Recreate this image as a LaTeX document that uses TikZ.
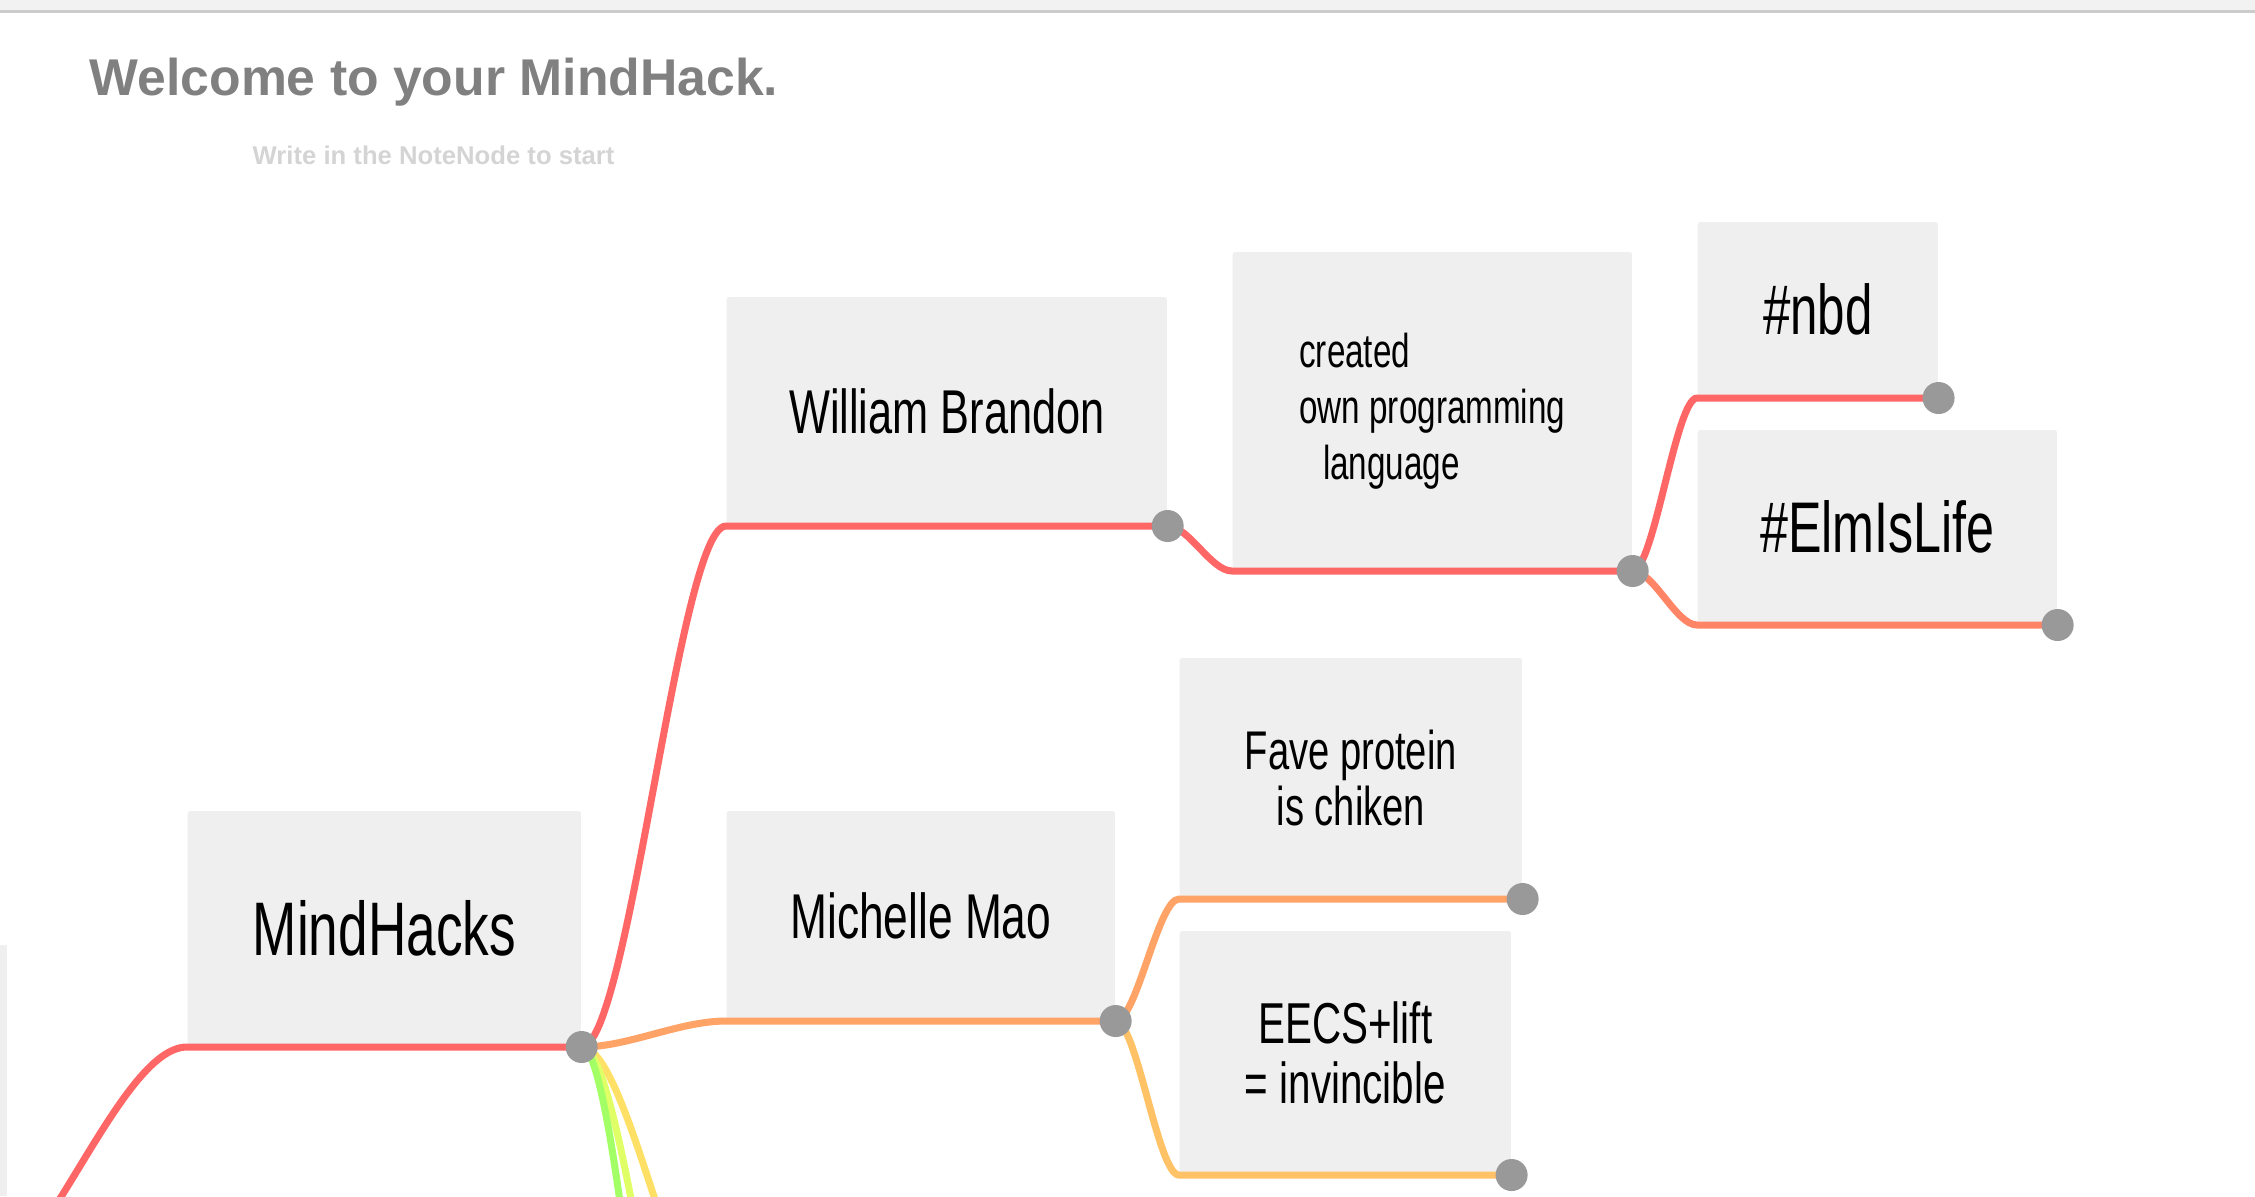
\documentclass[tikz,border=0pt]{standalone}
\usepackage{fontspec}
\setmainfont{Liberation Sans}
\newfontfamily\handfont{Liberation Sans}[FakeStretch=0.7]
\definecolor{nodegray}{HTML}{EFEFEF}
\definecolor{dotgray}{HTML}{999999}
\definecolor{titlegray}{HTML}{808080}
\definecolor{hintgray}{HTML}{D4D4D4}
\definecolor{barfill}{HTML}{F2F2F2}
\definecolor{barline}{HTML}{CCCCCC}
\definecolor{lred}{HTML}{FF6666}
\definecolor{lsalmon}{HTML}{FF8566}
\definecolor{lorange}{HTML}{FFA366}
\definecolor{lapricot}{HTML}{FFC266}
\definecolor{lyellow}{HTML}{FFE066}
\definecolor{llime}{HTML}{E0FF66}
\definecolor{lgreen}{HTML}{A3FF66}

\begin{document}
\begin{tikzpicture}[x=0.01cm, y=-0.01cm,
  notenode/.style={fill=nodegray, rounded corners=0.6pt, inner sep=0pt, anchor=south west, align=center, font=\handfont},
  link/.style={line width=2pt},
  dot/.style={circle, fill=dotgray, inner sep=0pt, minimum size=0.32cm}]
\useasboundingbox (0,0) rectangle (2255,1196);
\clip (0,0) rectangle (2255,1196);
% header
\fill[barfill] (0,0) rectangle (2255,11);
\draw[barline, line width=0.6pt] (0,11.5) -- (2255,11.5);
\node[font=\bfseries\fontsize{14.7}{17}\selectfont, text=titlegray, anchor=base west, inner sep=0pt]
  (welcome) at (89,95) {Welcome to your MindHack.};
\node[font=\bfseries\fontsize{7.3}{9}\selectfont, text=hintgray, anchor=base west, inner sep=0pt]
  (hint) at (252,164) {Write in the NoteNode to start};
% note nodes
\fill[nodegray] (0,945) rectangle (7,1196);
\node[notenode, minimum width=3.93cm, minimum height=2.35cm, font=\handfont\fontsize{21.6}{24}\selectfont]
  (mindhacks) at (187,1047) {MindHacks};
\node[notenode, minimum width=4.40cm, minimum height=2.28cm, font=\handfont\fontsize{17.6}{20}\selectfont]
  (william) at (726,526) {William Brandon};
\node[notenode, minimum width=3.99cm, minimum height=3.18cm, align=left, font=\handfont\fontsize{13.5}{16}\selectfont]
  (created) at (1232,571) {created\\own programming\\\hspace*{0.5em}language};
\node[notenode, minimum width=2.40cm, minimum height=1.75cm, font=\handfont\fontsize{20}{22}\selectfont]
  (nbd) at (1697,398) {\#nbd};
\node[notenode, minimum width=3.59cm, minimum height=1.94cm, font=\handfont\fontsize{20.4}{22}\selectfont]
  (elm) at (1697,625) {\#ElmIsLife};
\node[notenode, minimum width=3.88cm, minimum height=2.09cm, font=\handfont\fontsize{18}{20}\selectfont]
  (michelle) at (726,1021) {Michelle Mao};
\node[notenode, minimum width=3.42cm, minimum height=2.40cm, font=\handfont\fontsize{15.5}{16}\selectfont]
  (fave) at (1179,899) {Fave protein\\is chiken};
\node[notenode, minimum width=3.31cm, minimum height=2.43cm, font=\handfont\fontsize{16.4}{17}\selectfont]
  (eecs) at (1179,1175) {EECS+lift\\= invincible};
% off-screen ends
\coordinate (root) at (-30,1290);
\coordinate (kid3) at (726,1345);
\coordinate (kid4) at (726,1603);
\coordinate (kid5) at (726,1923);
% links
\draw[link, lred] (root) .. controls +(69,0) and +(-69,0) .. (mindhacks.south west) -- (mindhacks.south east);
\draw[link, lyellow] (mindhacks.south east) .. controls +(47,0) and +(-47,0) .. (kid3);
\draw[link, llime] (mindhacks.south east) .. controls +(47,0) and +(-47,0) .. (kid4);
\draw[link, lgreen] (mindhacks.south east) .. controls +(47,0) and +(-47,0) .. (kid5);
\draw[link, lorange] (mindhacks.south east) .. controls +(47,0) and +(-47,0) .. (michelle.south west) -- (michelle.south east);
\draw[link, lred] (mindhacks.south east) .. controls +(47,0) and +(-47,0) .. (william.south west) -- (william.south east);
\draw[link, lred] (william.south east) .. controls +(21,0) and +(-21,0) .. (created.south west) -- (created.south east);
\draw[link, lsalmon] (created.south east) .. controls +(21,0) and +(-21,0) .. (elm.south west) -- (elm.south east);
\draw[link, lred] (created.south east) .. controls +(21,0) and +(-21,0) .. (nbd.south west) -- (nbd.south east);
\draw[link, lorange] (michelle.south east) .. controls +(21,0) and +(-21,0) .. (fave.south west) -- (fave.south east);
\draw[link, lapricot] (michelle.south east) .. controls +(21,0) and +(-21,0) .. (eecs.south west) -- (eecs.south east);
% dots
\foreach \n in {mindhacks, william, created, nbd, elm, michelle, fave, eecs}
  \node[dot] (\n-dot) at (\n.south east) {};
\end{tikzpicture}
\end{document}
